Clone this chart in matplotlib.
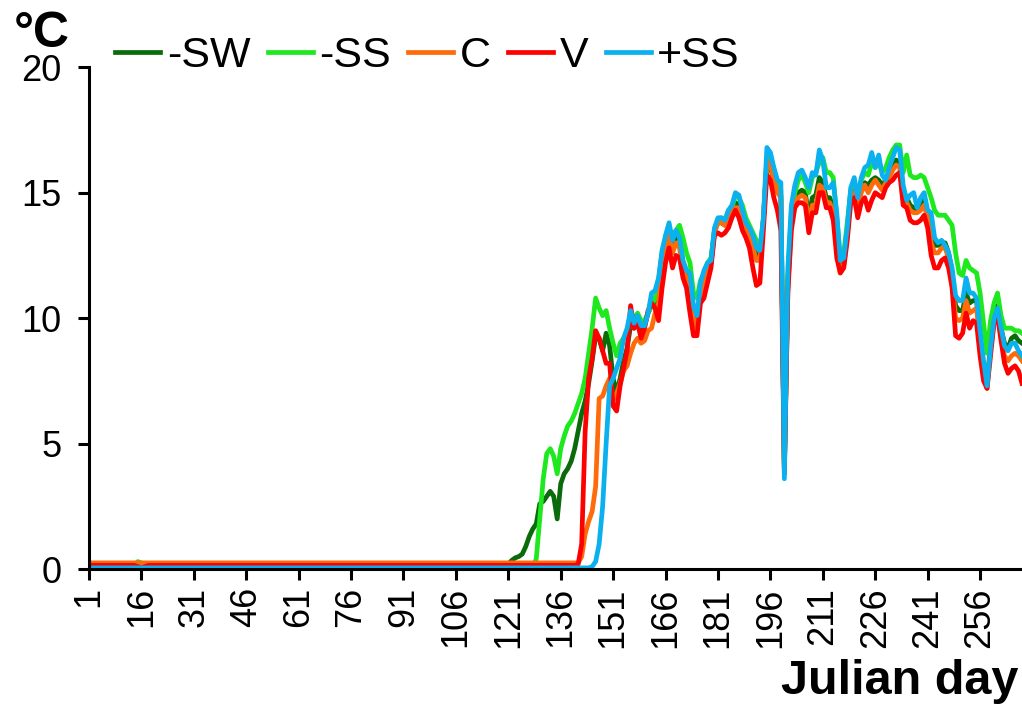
import numpy as np
import matplotlib
matplotlib.use('Agg')
import matplotlib.pyplot as plt

plt.rcParams['font.family'] = ['Liberation Sans', 'DejaVu Sans']

# daily mean temperature, Julian day 1..268 (one row = 15 days)
days = np.arange(1, 269)
tick_days = [1, 16, 31, 46, 61, 76, 91, 106, 121, 136, 151, 166, 181, 196, 211, 226, 241, 256]
tick_labels = ['1', '16', '31', '46', '61', '76', '91', '106', '121', '136', '151',
               '166', '181', '196', '211', '226', '241', '256']

minus_sw = [
    0.12, 0.12, 0.12, 0.12, 0.12, 0.12, 0.12, 0.12, 0.12, 0.12, 0.12, 0.12, 0.12, 0.12, 0.12,
    0.12, 0.12, 0.12, 0.12, 0.12, 0.12, 0.12, 0.12, 0.12, 0.12, 0.12, 0.12, 0.12, 0.12, 0.12,
    0.12, 0.12, 0.12, 0.12, 0.12, 0.12, 0.12, 0.12, 0.12, 0.12, 0.12, 0.12, 0.12, 0.12, 0.12,
    0.12, 0.12, 0.12, 0.12, 0.12, 0.12, 0.12, 0.12, 0.12, 0.12, 0.12, 0.12, 0.12, 0.12, 0.12,
    0.12, 0.12, 0.12, 0.12, 0.12, 0.12, 0.12, 0.12, 0.12, 0.12, 0.12, 0.12, 0.12, 0.12, 0.12,
    0.12, 0.12, 0.12, 0.12, 0.12, 0.12, 0.12, 0.12, 0.12, 0.12, 0.12, 0.12, 0.12, 0.12, 0.12,
    0.12, 0.12, 0.12, 0.12, 0.12, 0.12, 0.12, 0.12, 0.12, 0.12, 0.12, 0.12, 0.12, 0.12, 0.12,
    0.12, 0.12, 0.12, 0.12, 0.12, 0.12, 0.12, 0.12, 0.12, 0.12, 0.12, 0.12, 0.12, 0.12, 0.12,
    0.2, 0.35, 0.45, 0.5, 0.6, 0.9, 1.3, 1.6, 1.8, 2.6, 2.7, 2.9, 3.1, 2.9, 2.0,
    3.4, 3.8, 4.0, 4.3, 4.8, 5.5, 6.2, 6.7, 7.4, 8.3, 9.3, 9.2, 8.7, 9.4, 8.9,
    7.6, 7.0, 7.6, 8.3, 8.8, 9.7, 9.6, 9.9, 9.5, 9.7, 10.2, 10.5, 10.6, 10.6, 12.0,
    12.8, 13.3, 12.7, 13.3, 13.2, 12.2, 11.8, 11.5, 10.0, 9.8, 11.2, 11.5, 12.0, 12.2, 13.5,
    13.8, 13.8, 13.7, 14.1, 14.3, 14.6, 14.5, 14.1, 13.6, 13.3, 12.9, 12.5, 12.4, 13.9, 16.2,
    16.0, 15.5, 15.1, 14.9, 4.0, 11.5, 14.0, 14.8, 15.0, 15.1, 15.0, 14.0, 14.8, 14.9, 15.6,
    15.4, 14.8, 14.8, 14.4, 13.0, 12.0, 12.2, 13.4, 15.0, 15.2, 14.6, 15.2, 15.4, 15.3, 15.5,
    15.6, 15.5, 15.3, 15.5, 15.8, 16.1, 16.3, 16.2, 15.0, 14.8, 14.5, 14.4, 14.3, 14.5, 14.7,
    14.1, 13.4, 12.9, 12.9, 13.0, 13.0, 12.6, 11.8, 10.5, 10.3, 10.3, 11.0, 10.6, 10.7, 10.7,
    9.2, 8.0, 7.4, 9.0, 10.2, 10.5, 9.6, 9.0, 8.8, 9.2, 9.3, 9.1, 9.0,
]

minus_ss = [
    0.1, 0.1, 0.1, 0.1, 0.1, 0.1, 0.1, 0.1, 0.1, 0.1, 0.1, 0.1, 0.1, 0.1, 0.3,
    0.25, 0.1, 0.1, 0.1, 0.1, 0.1, 0.1, 0.1, 0.1, 0.1, 0.1, 0.1, 0.1, 0.1, 0.1,
    0.1, 0.1, 0.1, 0.1, 0.1, 0.1, 0.1, 0.1, 0.1, 0.1, 0.1, 0.1, 0.1, 0.1, 0.1,
    0.1, 0.1, 0.1, 0.1, 0.1, 0.1, 0.1, 0.1, 0.1, 0.1, 0.1, 0.1, 0.1, 0.1, 0.1,
    0.1, 0.1, 0.1, 0.1, 0.1, 0.1, 0.1, 0.1, 0.1, 0.1, 0.1, 0.1, 0.1, 0.1, 0.1,
    0.1, 0.1, 0.1, 0.1, 0.1, 0.1, 0.1, 0.1, 0.1, 0.1, 0.1, 0.1, 0.1, 0.1, 0.1,
    0.1, 0.1, 0.1, 0.1, 0.1, 0.1, 0.1, 0.1, 0.1, 0.1, 0.1, 0.1, 0.1, 0.1, 0.1,
    0.1, 0.1, 0.1, 0.1, 0.1, 0.1, 0.1, 0.1, 0.1, 0.1, 0.1, 0.1, 0.1, 0.1, 0.1,
    0.1, 0.1, 0.1, 0.1, 0.1, 0.1, 0.1, 0.1, 0.4, 2.0, 3.6, 4.6, 4.8, 4.5, 3.8,
    4.8, 5.3, 5.7, 5.9, 6.2, 6.6, 7.0, 7.6, 8.6, 9.6, 10.8, 10.4, 10.1, 10.3, 9.6,
    9.0, 8.5, 9.0, 9.2, 9.4, 9.8, 10.0, 10.2, 9.9, 9.9, 10.2, 10.5, 10.8, 11.5, 12.6,
    13.1, 13.5, 13.3, 13.5, 13.7, 13.2, 12.6, 12.2, 11.0, 10.8, 11.5, 11.8, 12.2, 12.4, 13.5,
    13.9, 14.0, 13.9, 14.3, 14.4, 14.9, 14.8, 14.5, 14.0, 13.7, 13.4, 13.1, 12.8, 13.9, 16.4,
    16.3, 15.8, 15.3, 15.1, 4.0, 11.6, 14.2, 15.0, 15.5, 15.7, 15.4, 15.0, 15.6, 15.8, 16.2,
    16.4, 15.8, 15.8, 15.6, 14.0, 12.4, 12.6, 13.8, 15.1, 15.4, 14.9, 15.5, 15.8, 15.7, 16.2,
    16.0, 16.2, 15.8, 16.0, 16.4, 16.7, 16.9, 16.9, 15.8, 16.5, 15.7, 15.6, 15.6, 15.7, 15.6,
    15.2, 14.8, 14.3, 14.1, 14.1, 14.1, 13.9, 13.7, 12.6, 11.8, 11.7, 12.3, 12.0, 11.9, 11.8,
    11.0, 9.8, 8.6, 9.9, 10.6, 11.0, 10.1, 9.6, 9.6, 9.6, 9.5, 9.5, 9.4,
]

c_temp = [
    0.25, 0.25, 0.25, 0.25, 0.25, 0.25, 0.25, 0.25, 0.25, 0.25, 0.25, 0.25, 0.25, 0.25, 0.25,
    0.25, 0.25, 0.25, 0.25, 0.25, 0.25, 0.25, 0.25, 0.25, 0.25, 0.25, 0.25, 0.25, 0.25, 0.25,
    0.25, 0.25, 0.25, 0.25, 0.25, 0.25, 0.25, 0.25, 0.25, 0.25, 0.25, 0.25, 0.25, 0.25, 0.25,
    0.25, 0.25, 0.25, 0.25, 0.25, 0.25, 0.25, 0.25, 0.25, 0.25, 0.25, 0.25, 0.25, 0.25, 0.25,
    0.25, 0.25, 0.25, 0.25, 0.25, 0.25, 0.25, 0.25, 0.25, 0.25, 0.25, 0.25, 0.25, 0.25, 0.25,
    0.25, 0.25, 0.25, 0.25, 0.25, 0.25, 0.25, 0.25, 0.25, 0.25, 0.25, 0.25, 0.25, 0.25, 0.25,
    0.25, 0.25, 0.25, 0.25, 0.25, 0.25, 0.25, 0.25, 0.25, 0.25, 0.25, 0.25, 0.25, 0.25, 0.25,
    0.25, 0.25, 0.25, 0.25, 0.25, 0.25, 0.25, 0.25, 0.25, 0.25, 0.25, 0.25, 0.25, 0.25, 0.25,
    0.25, 0.25, 0.25, 0.25, 0.25, 0.25, 0.25, 0.25, 0.25, 0.25, 0.25, 0.25, 0.25, 0.25, 0.25,
    0.25, 0.25, 0.25, 0.25, 0.25, 0.25, 0.5, 1.4, 1.9, 2.3, 3.3, 6.8, 6.9, 7.3, 7.6,
    6.7, 7.0, 7.4, 7.9, 8.1, 8.6, 9.0, 9.2, 9.0, 9.1, 9.5, 9.6, 10.2, 10.6, 11.8,
    12.7, 13.3, 12.6, 13.0, 12.8, 11.9, 11.6, 11.2, 9.8, 9.6, 11.0, 11.3, 11.9, 12.2, 13.4,
    13.8, 13.8, 13.7, 14.0, 14.2, 14.4, 14.4, 14.0, 13.5, 13.3, 12.8, 12.3, 12.3, 14.0, 16.3,
    16.1, 15.5, 15.0, 14.8, 3.9, 11.2, 13.7, 14.6, 14.8, 14.9, 14.8, 13.8, 14.5, 14.5, 15.3,
    15.2, 14.6, 14.6, 14.2, 12.8, 11.8, 12.1, 13.3, 14.9, 15.0, 14.4, 15.0, 15.3, 15.0, 15.3,
    15.5, 15.3, 15.1, 15.4, 15.6, 15.9, 16.1, 16.0, 14.8, 14.6, 14.3, 14.2, 14.2, 14.3, 14.5,
    14.0, 13.0, 12.6, 12.6, 12.8, 12.8, 12.4, 11.6, 10.0, 9.9, 10.0, 10.7, 10.2, 10.3, 10.4,
    9.0, 7.8, 7.2, 8.8, 9.9, 10.3, 9.3, 8.5, 8.3, 8.5, 8.6, 8.5, 8.3,
]

v_temp = [
    0.15, 0.15, 0.15, 0.15, 0.15, 0.15, 0.15, 0.15, 0.15, 0.15, 0.15, 0.15, 0.15, 0.15, 0.1,
    0.05, 0.1, 0.15, 0.15, 0.15, 0.15, 0.15, 0.15, 0.15, 0.15, 0.15, 0.15, 0.15, 0.15, 0.15,
    0.15, 0.15, 0.15, 0.15, 0.15, 0.15, 0.15, 0.15, 0.15, 0.15, 0.15, 0.15, 0.15, 0.15, 0.15,
    0.15, 0.15, 0.15, 0.15, 0.15, 0.15, 0.15, 0.15, 0.15, 0.15, 0.15, 0.15, 0.15, 0.15, 0.15,
    0.15, 0.15, 0.15, 0.15, 0.15, 0.15, 0.15, 0.15, 0.15, 0.15, 0.15, 0.15, 0.15, 0.15, 0.15,
    0.15, 0.15, 0.15, 0.15, 0.15, 0.15, 0.15, 0.15, 0.15, 0.15, 0.15, 0.15, 0.15, 0.15, 0.15,
    0.15, 0.15, 0.15, 0.15, 0.15, 0.15, 0.15, 0.15, 0.15, 0.15, 0.15, 0.15, 0.15, 0.15, 0.15,
    0.15, 0.15, 0.15, 0.15, 0.15, 0.15, 0.15, 0.15, 0.15, 0.15, 0.15, 0.15, 0.15, 0.15, 0.15,
    0.15, 0.15, 0.15, 0.15, 0.15, 0.15, 0.15, 0.15, 0.15, 0.15, 0.15, 0.15, 0.15, 0.15, 0.15,
    0.15, 0.15, 0.15, 0.15, 0.15, 0.2, 1.0, 5.5, 7.6, 8.4, 9.5, 9.2, 8.7, 8.2, 8.2,
    6.5, 6.3, 7.3, 8.0, 8.7, 10.5, 9.6, 9.8, 9.2, 9.6, 10.3, 10.6, 10.4, 9.9, 11.2,
    12.2, 12.8, 12.0, 12.5, 12.4, 11.6, 11.2, 10.2, 9.3, 9.3, 10.6, 10.8, 11.4, 12.0, 13.3,
    13.4, 13.3, 13.4, 13.6, 14.0, 14.3, 14.0, 13.5, 13.2, 12.8, 12.0, 11.3, 11.4, 13.5, 15.7,
    15.5, 14.8, 14.3, 13.5, 3.8, 11.0, 13.5, 14.4, 14.6, 14.6, 14.5, 13.4, 14.2, 14.2, 15.0,
    15.0, 14.4, 14.4, 13.9, 12.4, 11.8, 12.0, 13.1, 14.6, 14.8, 14.0, 14.6, 14.8, 14.3, 14.7,
    15.0, 14.9, 14.8, 15.2, 15.4, 15.5, 15.7, 15.8, 14.5, 14.4, 13.9, 13.8, 13.8, 13.9, 14.1,
    13.6, 12.5, 12.0, 12.0, 12.3, 12.4, 12.0, 11.2, 9.3, 9.2, 9.4, 10.2, 9.6, 9.9, 9.8,
    8.5, 7.5, 7.2, 8.5, 9.8, 10.1, 9.1, 8.2, 7.8, 8.0, 8.1, 7.9, 7.4,
]

plus_ss = [
    0.05, 0.05, 0.05, 0.05, 0.05, 0.05, 0.05, 0.05, 0.05, 0.05, 0.05, 0.05, 0.05, 0.05, 0.05,
    0.05, 0.05, 0.05, 0.05, 0.05, 0.05, 0.05, 0.05, 0.05, 0.05, 0.05, 0.05, 0.05, 0.05, 0.05,
    0.05, 0.05, 0.05, 0.05, 0.05, 0.05, 0.05, 0.05, 0.05, 0.05, 0.05, 0.05, 0.05, 0.05, 0.05,
    0.05, 0.05, 0.05, 0.05, 0.05, 0.05, 0.05, 0.05, 0.05, 0.05, 0.05, 0.05, 0.05, 0.05, 0.05,
    0.05, 0.05, 0.05, 0.05, 0.05, 0.05, 0.05, 0.05, 0.05, 0.05, 0.05, 0.05, 0.05, 0.05, 0.05,
    0.05, 0.05, 0.05, 0.05, 0.05, 0.05, 0.05, 0.05, 0.05, 0.05, 0.05, 0.05, 0.05, 0.05, 0.05,
    0.05, 0.05, 0.05, 0.05, 0.05, 0.05, 0.05, 0.05, 0.05, 0.05, 0.05, 0.05, 0.05, 0.05, 0.05,
    0.05, 0.05, 0.05, 0.05, 0.05, 0.05, 0.05, 0.05, 0.05, 0.05, 0.05, 0.05, 0.05, 0.05, 0.05,
    0.05, 0.05, 0.05, 0.05, 0.05, 0.05, 0.05, 0.05, 0.05, 0.05, 0.05, 0.05, 0.05, 0.05, 0.05,
    0.05, 0.05, 0.05, 0.05, 0.05, 0.05, 0.05, 0.05, 0.05, 0.1, 0.3, 1.0, 2.5, 5.0, 7.3,
    7.6, 8.0, 8.4, 9.2, 9.6, 10.3, 9.8, 10.1, 9.7, 9.7, 10.2, 11.0, 11.1, 11.6, 12.7,
    13.3, 13.8, 13.1, 13.5, 13.2, 12.3, 11.9, 11.8, 10.5, 10.1, 11.4, 11.9, 12.2, 12.3, 13.6,
    14.0, 14.0, 13.9, 14.3, 14.5, 15.0, 14.9, 14.3, 13.8, 13.6, 13.3, 12.8, 12.7, 14.0, 16.8,
    16.6, 16.0, 15.5, 15.4, 3.6, 12.0, 14.5, 15.3, 15.8, 15.9, 15.6, 15.2, 15.8, 15.7, 16.7,
    16.3, 15.2, 15.2, 15.4, 14.2, 12.3, 12.4, 13.6, 15.2, 15.6, 14.8, 15.6, 16.0, 16.1, 16.6,
    16.0, 16.5, 15.7, 15.5, 16.0, 16.4, 16.8, 16.7, 15.3, 14.7, 14.9, 15.0, 14.4, 14.8, 15.0,
    14.3, 14.2, 13.2, 13.0, 13.1, 12.9, 12.6, 12.0, 10.9, 10.7, 10.7, 11.6, 11.0, 11.0, 10.8,
    9.5, 8.3, 7.3, 8.8, 10.0, 10.4, 9.6, 8.9, 8.7, 9.0, 9.0, 8.7, 8.5,
]

series = [('-SW', minus_sw, '#0a6b0a'),
          ('-SS', minus_ss, '#1ee81e'),
          ('C', c_temp, '#ff6a0a'),
          ('V', v_temp, '#ff0000'),
          ('+SS', plus_ss, '#0bb0ee')]

fig = plt.figure(figsize=(10.22, 7.07), dpi=100)
ax = fig.add_axes([0.087, 0.195, 0.913, 0.710])

for name, vals, col in series:
    ax.plot(days, vals, color=col, lw=3.4, label=name, solid_joinstyle='round')

ax.set_xlim(1, 268)
ax.set_ylim(0, 20)
ax.set_yticks([0, 5, 10, 15, 20])
ax.set_xticks(tick_days)
ax.set_xticklabels(tick_labels, rotation=90)

for sp in ['top', 'right']:
    ax.spines[sp].set_visible(False)
for sp in ['left', 'bottom']:
    ax.spines[sp].set_linewidth(2.2)
ax.tick_params(axis='both', direction='out', length=8, width=2.2, labelsize=26)
ax.tick_params(axis='y', pad=12)
ax.tick_params(axis='x', pad=5)

fig.text(14 / 1022, 1 - 47 / 707, '°C', fontsize=36, fontweight='bold', va='baseline')
fig.text(1018 / 1022, 3 / 707, 'Julian day', fontsize=35, fontweight='bold',
         ha='right', va='bottom')

ax.legend(loc='center left', bbox_to_anchor=(115 / 1022, 1 - 56 / 707),
          bbox_transform=fig.transFigure, ncol=5, frameon=False, fontsize=31,
          borderpad=0, borderaxespad=0, handlelength=1.05, handletextpad=0.15,
          columnspacing=0.4)

plt.savefig('out.png', dpi=100)
